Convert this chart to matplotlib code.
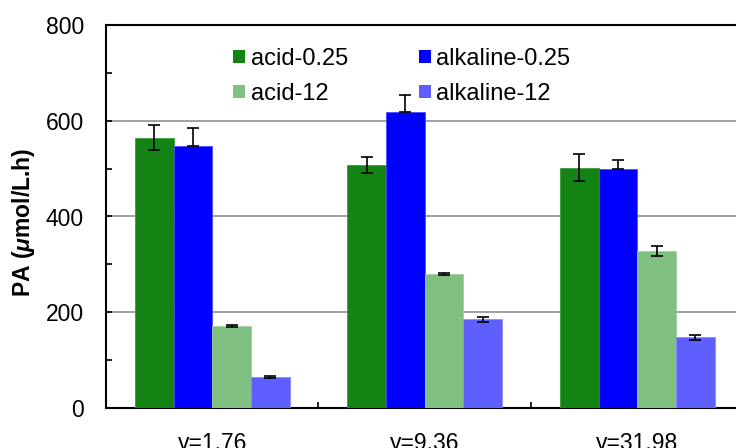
import matplotlib
matplotlib.use('Agg')
import numpy as np
import matplotlib.pyplot as plt
from matplotlib.patches import Patch
from matplotlib.ticker import MultipleLocator, FixedLocator

plt.rcParams['font.family'] = ['Liberation Sans', 'DejaVu Sans']
plt.rcParams['mathtext.fontset'] = 'custom'
plt.rcParams['mathtext.rm'] = 'Liberation Sans:bold'
plt.rcParams['mathtext.it'] = 'Liberation Sans:italic:bold'

# data
groups = ['γ=1.76', 'γ=9.36', 'γ=31.98']
series = ['acid-0.25', 'alkaline-0.25', 'acid-12', 'alkaline-12']
acid_025 = [565, 507, 502]
acid_025_err = [27, 17, 28]
alk_025 = [547, 618, 500]
alk_025_err = [37, 35, 17]   # only the upper half is shown
acid_12 = [172, 280, 328]
acid_12_err = [2, 3, 10]
alk_12 = [65, 185, 148]
alk_12_err = [2, 5, 5]

colors = ['#138413', '#0000FF', '#80C080', '#5F5FFF']
edges = ['#3a9a3a', '#4d4dff', '#a0d0a0', '#8a8aff']

fig = plt.figure(figsize=(7.36, 4.48), dpi=100)
ax = fig.add_axes([106 / 736, 40 / 448, 637.5 / 736, 383 / 448])

x = np.arange(len(groups))
w = 0.182
vals = [acid_025, alk_025, acid_12, alk_12]
errs = [
    [acid_025_err, acid_025_err],
    [[0] * 3, alk_025_err],
    [acid_12_err, acid_12_err],
    [alk_12_err, alk_12_err],
]
for i in range(4):
    ax.bar(x + (i - 1.5) * w, vals[i], w, color=colors[i], edgecolor=edges[i],
           linewidth=0.6, zorder=3,
           yerr=errs[i], capsize=4.4,
           error_kw=dict(ecolor='black', elinewidth=1.2, capthick=1.2, zorder=4))

ax.set_xlim(-0.5, 2.5)
ax.set_ylim(0, 800)
ax.yaxis.set_major_locator(MultipleLocator(200))
ax.yaxis.set_minor_locator(MultipleLocator(100))
ax.grid(axis='y', color='#999999', linewidth=1.3, zorder=0)
ax.set_axisbelow(True)

ax.set_xticks(x)
ax.set_xticklabels(groups)
ax.xaxis.set_minor_locator(FixedLocator([0.5, 1.5]))
ax.tick_params(axis='both', which='both', direction='in', length=4, width=1.2)
ax.tick_params(axis='y', labelsize=16.5, pad=16)
ax.tick_params(axis='x', labelsize=16.5, pad=17)

for s in ['left', 'bottom', 'top']:
    ax.spines[s].set_linewidth(1.5)
    ax.spines[s].set_color('black')
ax.spines['right'].set_visible(False)

fig.text(24 / 736, 1 - 222 / 448, r'PA ($\mu$mol/L.h)', rotation=90,
         ha='center', va='center', fontsize=16.5, fontweight='bold')

handles = [Patch(facecolor=colors[i], edgecolor='none', label=series[i]) for i in [0, 2, 1, 3]]
ax.legend(handles=handles, ncol=2, frameon=False, fontsize=17,
          loc='upper left', bbox_to_anchor=(233 / 736, 1 - 48 / 448),
          bbox_transform=fig.transFigure, borderpad=0, borderaxespad=0,
          handlelength=0.5, handleheight=0.5, handletextpad=0.25,
          columnspacing=3.0, labelspacing=0.55)

fig.savefig('out.png', dpi=100)
